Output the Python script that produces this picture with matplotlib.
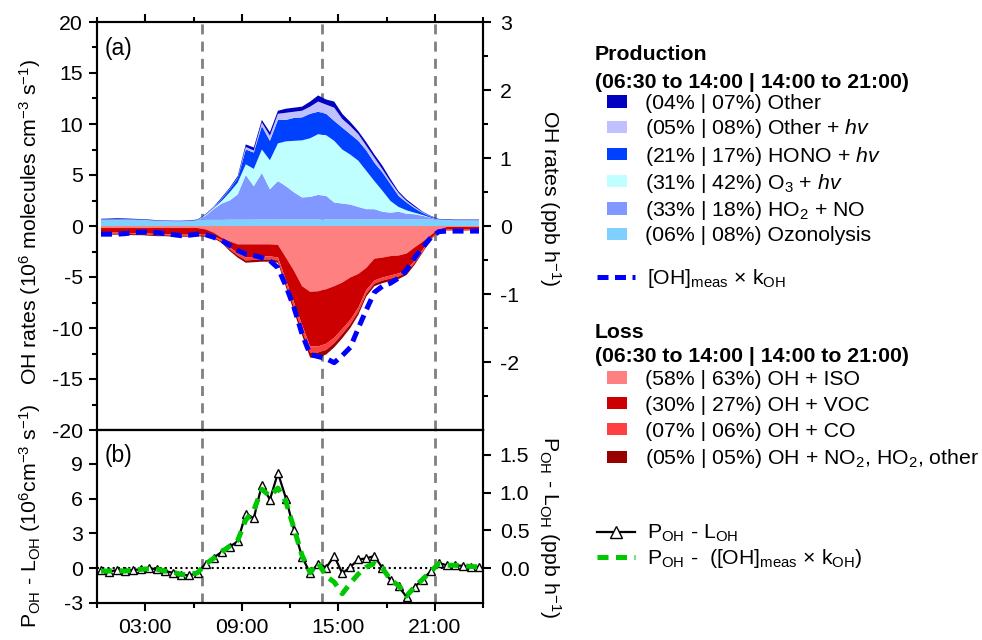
import numpy as np
import matplotlib
matplotlib.use('Agg')
import matplotlib.pyplot as plt
from matplotlib.patches import Patch
from matplotlib.lines import Line2D
from matplotlib.ticker import MultipleLocator, FixedLocator, FormatStrFormatter

plt.rcParams['font.family'] = ['Liberation Sans', 'DejaVu Sans']
plt.rcParams['font.size'] = 15.3
plt.rcParams['mathtext.fontset'] = 'custom'
plt.rcParams['mathtext.rm'] = 'Liberation Sans'
plt.rcParams['mathtext.it'] = 'Liberation Sans:italic'
plt.rcParams['mathtext.bf'] = 'Liberation Sans:bold'
plt.rcParams['axes.unicode_minus'] = False

# ---------------- data ----------------
hours = [0.25, 0.75, 1.25, 1.75, 2.25, 2.75, 3.25, 3.75, 4.25, 4.75, 5.25, 5.75,
         6.25, 6.75, 7.25, 7.75, 8.25, 8.75, 9.25, 9.75, 10.25, 10.75, 11.25, 11.75,
         12.25, 12.75, 13.25, 13.75, 14.25, 14.75, 15.25, 15.75, 16.25, 16.75, 17.25, 17.75,
         18.25, 18.75, 19.25, 19.75, 20.25, 20.75, 21.25, 21.75, 22.25, 22.75, 23.25, 23.75]

# Production terms (10^6 molecules cm-3 s-1)
p_ozonolysis = [0.62, 0.62, 0.63, 0.63, 0.62, 0.60, 0.55, 0.50, 0.47, 0.45, 0.45, 0.47,
                0.55, 0.60, 0.60, 0.60, 0.62, 0.62, 0.63, 0.63, 0.64, 0.64, 0.65, 0.65,
                0.65, 0.65, 0.65, 0.65, 0.65, 0.65, 0.65, 0.65, 0.65, 0.65, 0.65, 0.65,
                0.65, 0.65, 0.65, 0.65, 0.65, 0.65, 0.62, 0.58, 0.55, 0.55, 0.55, 0.55]
p_ho2_no = [0.02, 0.02, 0.02, 0.02, 0.02, 0.02, 0.02, 0.02, 0.02, 0.02, 0.02, 0.02,
            0.03, 0.40, 1.05, 1.60, 1.88, 2.48, 4.37, 3.27, 4.56, 2.96, 3.75, 3.25,
            2.65, 2.15, 2.20, 2.40, 2.30, 1.65, 1.55, 1.45, 1.22, 1.00, 1.00, 0.75,
            0.65, 0.75, 0.55, 0.50, 0.35, 0.15, 0.03, 0.02, 0.02, 0.02, 0.02, 0.02]
p_o3_hv = [0.00, 0.00, 0.00, 0.00, 0.00, 0.00, 0.00, 0.00, 0.00, 0.00, 0.00, 0.00,
           0.00, 0.08, 0.10, 0.25, 0.80, 1.15, 1.05, 1.70, 2.30, 2.85, 3.70, 4.40,
           5.05, 5.60, 5.75, 5.95, 5.95, 6.05, 5.30, 4.90, 4.53, 3.75, 2.75, 2.05,
           1.15, 0.47, 0.34, 0.15, 0.08, 0.02, 0.00, 0.00, 0.00, 0.00, 0.00, 0.00]
p_hono_hv = [0.01, 0.01, 0.01, 0.01, 0.01, 0.01, 0.01, 0.01, 0.01, 0.01, 0.01, 0.01,
             0.01, 0.03, 0.05, 0.20, 0.30, 0.45, 1.45, 1.60, 2.30, 1.90, 2.30, 2.10,
             2.25, 2.25, 2.40, 2.20, 2.10, 1.95, 2.15, 2.00, 1.95, 2.00, 1.80, 1.80,
             1.65, 1.08, 0.76, 0.45, 0.20, 0.10, 0.02, 0.01, 0.01, 0.01, 0.01, 0.01]
p_other_hv = [0.00, 0.00, 0.00, 0.00, 0.00, 0.00, 0.00, 0.00, 0.00, 0.00, 0.00, 0.00,
              0.00, 0.02, 0.03, 0.05, 0.05, 0.05, 0.25, 0.20, 0.35, 0.50, 0.60, 0.70,
              0.60, 0.65, 0.70, 1.00, 0.90, 1.30, 0.85, 0.80, 0.65, 0.45, 0.50, 0.30,
              0.25, 0.30, 0.15, 0.12, 0.06, 0.03, 0.00, 0.00, 0.00, 0.00, 0.00, 0.00]
p_other = [0.06, 0.08, 0.10, 0.08, 0.06, 0.05, 0.05, 0.04, 0.04, 0.04, 0.04, 0.05,
           0.05, 0.05, 0.05, 0.10, 0.10, 0.15, 0.25, 0.30, 0.25, 0.35, 0.30, 0.40,
           0.40, 0.40, 0.50, 0.60, 0.50, 0.60, 0.50, 0.40, 0.30, 0.35, 0.30, 0.35,
           0.25, 0.15, 0.15, 0.13, 0.06, 0.05, 0.03, 0.05, 0.05, 0.05, 0.05, 0.05]

# Loss terms (magnitude, 10^6 molecules cm-3 s-1)
l_iso = [0.20, 0.20, 0.20, 0.20, 0.20, 0.20, 0.20, 0.20, 0.20, 0.20, 0.20, 0.20,
         0.20, 0.33, 0.65, 1.15, 1.50, 1.80, 1.80, 1.80, 1.80, 1.80, 1.85, 3.10,
         4.40, 5.90, 6.45, 6.40, 6.20, 5.90, 5.55, 5.05, 4.70, 4.10, 3.20, 3.10,
         2.95, 2.90, 2.70, 2.10, 1.55, 0.90, 0.33, 0.10, 0.10, 0.10, 0.10, 0.10]
l_voc = [0.45, 0.45, 0.45, 0.45, 0.50, 0.50, 0.55, 0.60, 0.60, 0.65, 0.65, 0.65,
         0.60, 0.52, 0.33, 0.23, 0.60, 0.85, 1.28, 1.23, 1.18, 1.18, 1.23, 2.20,
         3.10, 3.80, 5.35, 5.40, 5.35, 5.05, 4.55, 4.15, 3.30, 2.17, 2.15, 1.95,
         1.90, 1.75, 1.60, 1.30, 0.78, 0.36, 0.12, 0.26, 0.26, 0.26, 0.26, 0.26]
l_co = [0.10, 0.10, 0.10, 0.10, 0.10, 0.10, 0.10, 0.10, 0.10, 0.10, 0.10, 0.10,
        0.10, 0.10, 0.12, 0.15, 0.20, 0.25, 0.30, 0.30, 0.30, 0.30, 0.30, 0.40,
        0.50, 0.55, 0.60, 0.60, 0.60, 0.55, 0.50, 0.45, 0.40, 0.35, 0.30, 0.30,
        0.30, 0.30, 0.28, 0.22, 0.15, 0.08, 0.03, 0.05, 0.05, 0.05, 0.05, 0.05]
l_no2_other = [0.10, 0.10, 0.10, 0.10, 0.10, 0.10, 0.10, 0.10, 0.10, 0.10, 0.10, 0.10,
               0.10, 0.10, 0.10, 0.12, 0.15, 0.20, 0.22, 0.22, 0.22, 0.22, 0.22, 0.30,
               0.40, 0.45, 0.50, 0.50, 0.45, 0.40, 0.40, 0.35, 0.30, 0.28, 0.25, 0.25,
               0.25, 0.25, 0.22, 0.18, 0.12, 0.06, 0.02, 0.04, 0.04, 0.04, 0.04, 0.04]

# [OH]meas x kOH (magnitude)
oh_meas_k = [0.80, 0.80, 0.80, 0.75, 0.65, 0.60, 0.60, 0.65, 0.75, 0.85, 0.95, 0.90,
             0.80, 0.85, 1.10, 1.40, 1.90, 2.40, 2.75, 2.90, 3.10, 3.40, 4.10, 5.90,
             8.00, 10.60, 12.60, 12.80, 13.00, 13.40, 12.70, 11.90, 10.00, 8.20, 6.50, 5.90,
             5.60, 5.10, 4.30, 3.10, 2.10, 1.15, 0.55, 0.50, 0.50, 0.50, 0.50, 0.50]

# Panel (b)
p_minus_l = [-0.20, -0.30, -0.15, -0.25, -0.15, -0.10, 0.00, -0.10, -0.25, -0.40, -0.60, -0.60,
             -0.45, 0.40, 0.90, 1.40, 1.85, 2.30, 4.70, 4.30, 7.20, 5.90, 8.20, 6.00,
             3.30, 1.00, -0.45, 0.40, 0.05, 1.05, -0.45, 0.10, 0.75, 0.85, 1.05, 0.00,
             -1.05, -1.55, -2.50, -1.60, -1.00, -0.25, 0.45, 0.25, 0.25, 0.20, 0.10, 0.10]
p_minus_ohmeas = [-0.25, -0.25, -0.20, -0.25, -0.15, -0.10, -0.05, -0.10, -0.25, -0.35, -0.55, -0.55,
                  -0.40, 0.35, 0.85, 1.40, 1.90, 2.40, 4.15, 5.00, 6.80, 6.20, 6.90, 5.70,
                  3.40, 1.10, -0.40, 0.45, -0.70, -1.20, -2.20, -1.30, -0.50, 0.10, 0.40, 0.00,
                  -1.00, -1.50, -2.40, -1.60, -0.95, -0.30, 0.40, 0.25, 0.25, 0.20, 0.15, 0.10]

period_bounds = [6.5, 14.0, 21.0]

prod_labels = ['(04% | 07%) Other', '(05% | 08%) Other + $hv$', '(21% | 17%) HONO + $hv$',
               '(31% | 42%) O$_3$ + $hv$', '(33% | 18%) HO$_2$ + NO', '(06% | 08%) Ozonolysis']
prod_colors = ['#0000C0', '#C0C0FF', '#0040FF', '#C0FFFF', '#8098FF', '#80D0FF']
loss_labels = ['(58% | 63%) OH + ISO', '(30% | 27%) OH + VOC', '(07% | 06%) OH + CO',
               '(05% | 05%) OH + NO$_2$, HO$_2$, other']
loss_colors = ['#FF8080', '#CC0000', '#FF4040', '#990000']

conv_a = 20.0 / 3.0   # 10^6 molec cm-3 s-1 per ppb h-1 (panel a)
conv_b = 6.5          # panel b

# ---------------- figure ----------------
W, H = 982, 640
fig = plt.figure(figsize=(W / 100, H / 100), dpi=100)

def fx(x):
    return x / W

def fy(y):
    return 1 - y / H

ax_a = fig.add_axes([fx(97), fy(430), fx(483) - fx(97), fy(22) - fy(430)])
ax_b = fig.add_axes([fx(97), fy(603), fx(483) - fx(97), fy(430) - fy(603)])

t = np.array(hours)

# panel a: production stack (bottom -> top)
prod_stack = [p_ozonolysis, p_ho2_no, p_o3_hv, p_hono_hv, p_other_hv, p_other]
ax_a.stackplot(t, *[np.array(s) for s in prod_stack], colors=prod_colors[::-1],
               linewidth=0, zorder=2)
loss_stack = [l_iso, l_voc, l_co, l_no2_other]
ax_a.stackplot(t, *[-np.array(s) for s in loss_stack], colors=loss_colors,
               linewidth=0, zorder=2)
ax_a.plot(t, -np.array(oh_meas_k), color='#0000FF', lw=3.6, ls=(0, (2.2, 1.3)), zorder=4)

for ax in (ax_a, ax_b):
    for b in period_bounds:
        ax.axvline(b, color='#808080', lw=2, ls=(0, (3.6, 2.6)), zorder=1)

# panel b
ax_b.axhline(0, color='black', lw=1.5, ls=(0, (1, 1.5)), zorder=2)
ax_b.plot(t, p_minus_l, color='black', lw=1.6, marker='^', ms=5.5, mfc='white',
          mec='black', mew=1.0, zorder=3)
ax_b.plot(t, p_minus_ohmeas, color='#00C800', lw=3.6, ls=(0, (2.2, 1.5)), zorder=4)

# limits
for ax in (ax_a, ax_b):
    ax.set_xlim(0, 24)
ax_a.set_ylim(-20, 20)
ax_b.set_ylim(-3, 11.9)

ax_ar = ax_a.twinx()
ax_ar.set_ylim(-20 / conv_a, 20 / conv_a)
ax_br = ax_b.twinx()
ax_br.set_ylim(-3 / conv_b, 11.9 / conv_b)

# ticks
xt_major = [3, 9, 15, 21]
xt_minor = [0, 6, 12, 18, 24]
xt_labels = ['03:00', '09:00', '15:00', '21:00']
for ax in (ax_a, ax_b):
    ax.xaxis.set_major_locator(FixedLocator(xt_major))
    ax.xaxis.set_minor_locator(FixedLocator(xt_minor))
ax_b.set_xticklabels(xt_labels)
ax_a.tick_params(axis='x', which='both', top=True, bottom=False, labelbottom=False,
                 labeltop=False, direction='out')
ax_b.tick_params(axis='x', which='both', top=False, bottom=True, direction='out')

ax_a.yaxis.set_major_locator(MultipleLocator(5))
ax_a.yaxis.set_minor_locator(MultipleLocator(2.5))
ax_b.yaxis.set_major_locator(FixedLocator([-3, 0, 3, 6, 9]))
ax_ar.yaxis.set_major_locator(FixedLocator([-2, -1, 0, 1, 2, 3]))
ax_ar.yaxis.set_minor_locator(FixedLocator([-2.5, -1.5, -0.5, 0.5, 1.5, 2.5]))
ax_br.yaxis.set_major_locator(FixedLocator([0.0, 0.5, 1.0, 1.5]))
ax_br.yaxis.set_major_formatter(FormatStrFormatter('%.1f'))

for ax in (ax_a, ax_b, ax_ar, ax_br):
    ax.tick_params(which='major', length=6, width=1.5, direction='out', pad=4)
    ax.tick_params(which='minor', length=3.5, width=1.5, direction='out')
    for s in ax.spines.values():
        s.set_linewidth(1.5)
ax_ar.tick_params(axis='y', pad=6)
ax_br.tick_params(axis='y', pad=6)
ax_b.tick_params(axis='x', pad=5)

ax_a.text(0.02, 0.935, '(a)', transform=ax_a.transAxes, ha='left', va='center', fontsize=16.5)
ax_b.text(0.02, 0.855, '(b)', transform=ax_b.transAxes, ha='left', va='center', fontsize=16.5)

# axis labels
fig.text(fx(30), fy(222), 'OH rates (10$^{6}$ molecules cm$^{-3}$ s$^{-1}$)',
         rotation=90, ha='center', va='center')
fig.text(fx(30), fy(516), 'P$_{\\mathrm{OH}}$ - L$_{\\mathrm{OH}}$ (10$^{6}$cm$^{-3}$ s$^{-1}$)',
         rotation=90, ha='center', va='center')
fig.text(fx(550), fy(198), 'OH rates (ppb h$^{-1}$)', rotation=270, ha='center', va='center')
fig.text(fx(550), fy(527), 'P$_{\\mathrm{OH}}$ - L$_{\\mathrm{OH}}$ (ppb h$^{-1}$)',
         rotation=270, ha='center', va='center')

# legends
fig.text(fx(595), fy(55), 'Production', weight='bold', ha='left', va='center')
fig.text(fx(595), fy(82), '(06:30 to 14:00 | 14:00 to 21:00)', weight='bold', ha='left', va='center')
fig.text(fx(595), fy(332), 'Loss', weight='bold', ha='left', va='center')
fig.text(fx(595), fy(357), '(06:30 to 14:00 | 14:00 to 21:00)', weight='bold', ha='left', va='center')

common = dict(loc='upper left', frameon=False, borderpad=0, borderaxespad=0)
prod_handles = [Patch(facecolor=c, edgecolor='none') for c in prod_colors]
fig.legend(prod_handles, prod_labels, bbox_to_anchor=(fx(607), fy(94)),
           handlelength=0.94, handleheight=0.5, handletextpad=0.85, labelspacing=0.2, **common)
loss_handles = [Patch(facecolor=c, edgecolor='none') for c in loss_colors]
fig.legend(loss_handles, loss_labels, bbox_to_anchor=(fx(607), fy(370)),
           handlelength=0.94, handleheight=0.5, handletextpad=0.85, labelspacing=0.32, **common)

oh_handle = [Line2D([], [], color='#0000FF', lw=3.6, ls=(0, (2.2, 1.3)))]
fig.legend(oh_handle, ['[OH]$_{\\mathrm{meas}}$ × k$_{\\mathrm{OH}}$'], bbox_to_anchor=(fx(597), fy(267)),
           handlelength=1.8, handletextpad=0.55, **common)

b_handles = [Line2D([], [], color='black', lw=1.6, marker='^', ms=9, mfc='white', mec='black', mew=1.0),
             Line2D([], [], color='#00C800', lw=3.6, ls=(0, (2.2, 1.5)))]
fig.legend(b_handles, ['P$_{\\mathrm{OH}}$ - L$_{\\mathrm{OH}}$',
                       'P$_{\\mathrm{OH}}$ -  ([OH]$_{\\mathrm{meas}}$ × k$_{\\mathrm{OH}}$)'],
           bbox_to_anchor=(fx(597), fy(523)), handlelength=1.8, handletextpad=0.55,
           labelspacing=0.15, numpoints=1, **common)

fig.savefig('out.png', dpi=100)
